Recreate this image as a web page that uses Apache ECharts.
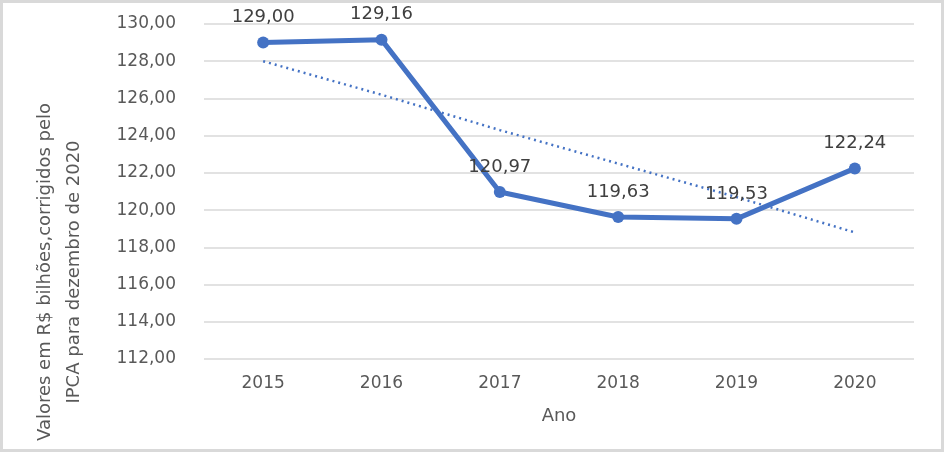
<!DOCTYPE html>
<html><head><meta charset="utf-8">
<script src="https://cdn.jsdelivr.net/npm/echarts@6/dist/echarts.min.js"></script>
<style>html,body{margin:0;padding:0;background:#fff}#c{width:945px;height:453px}</style>
</head><body><div id="c"></div>
<script>
const categories = ['2015','2016','2017','2018','2019','2020'];
const values = [129.00, 129.16, 120.97, 119.63, 119.53, 122.24];
const trendValues = [128.0, 126.2, 124.3, 122.5, 120.7, 118.8];
const yMin = 112, yMax = 130, yStep = 2;
const xTitle = 'Ano';
const yTitleLines = ['Valores em R$ bilhões,corrigidos pelo', 'IPCA para dezembro de 2020'];

const FONT = 'DejaVu Sans';
const fmt = v => v.toFixed(2).replace('.', ',');
const chart = echarts.init(document.getElementById('c'), null, {renderer:'canvas'});
chart.setOption({
  animation:false,
  backgroundColor:'#fff',
  grid:{left:204, right:31, top:24, bottom:94},
  xAxis:{
    type:'category', data:categories, boundaryGap:true,
    axisLine:{show:false}, axisTick:{show:false},
    axisLabel:{color:'#595959', fontFamily:FONT, fontSize:17, margin:16},
    name:xTitle, nameLocation:'middle', nameGap:48,
    nameTextStyle:{color:'#595959', fontFamily:FONT, fontSize:18}
  },
  yAxis:{
    type:'value', min:yMin, max:yMax, interval:yStep,
    axisLine:{show:false}, axisTick:{show:false},
    splitLine:{lineStyle:{color:'#d9d9d9', width:1.5}},
    axisLabel:{color:'#595959', fontFamily:FONT, fontSize:17, margin:28, formatter:fmt}
  },
  series:[
    {type:'line', data:trendValues, symbol:'none', silent:true,
     lineStyle:{color:'#4472C4', width:2.5, type:[2,4]}},
    {type:'line', data:values, symbol:'circle', symbolSize:12,
     itemStyle:{color:'#4472C4'}, lineStyle:{color:'#4472C4', width:5},
     label:{show:true, position:'top', distance:10, color:'#404040', fontFamily:FONT, fontSize:18,
            formatter:p=>fmt(p.value)}}
  ],
  graphic:[
    {type:'rect', shape:{x:1.5, y:1.5, width:941, height:449}, style:{fill:null, stroke:'#d9d9d9', lineWidth:3}, silent:true},
    {type:'text', x:45, y:272, rotation:Math.PI/2,
     style:{text:yTitleLines[0], fill:'#595959', font:'18px "DejaVu Sans"', align:'center', verticalAlign:'middle'}},
    {type:'text', x:74, y:272, rotation:Math.PI/2,
     style:{text:yTitleLines[1], fill:'#595959', font:'18px "DejaVu Sans"', align:'center', verticalAlign:'middle'}}
  ]
});
</script></body></html>
